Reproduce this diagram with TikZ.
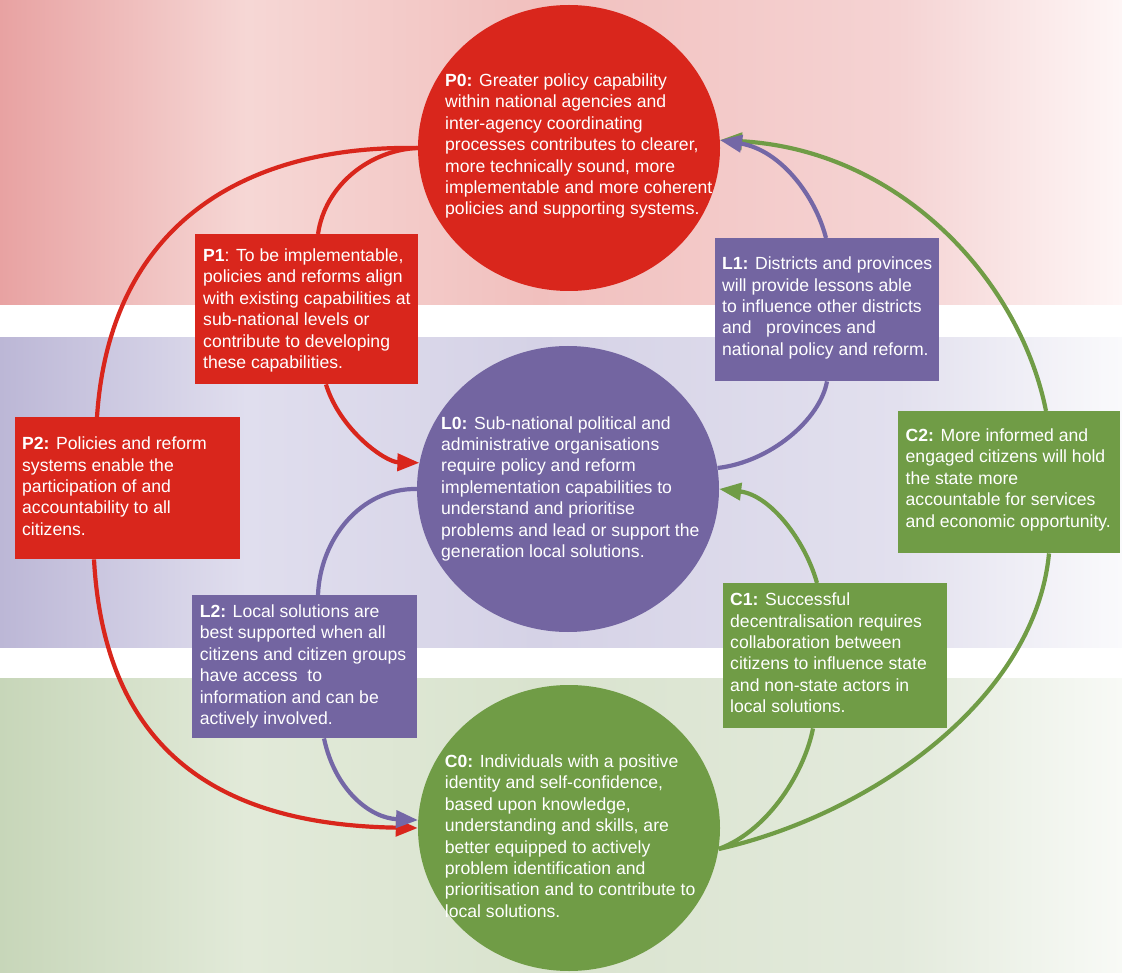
\documentclass[tikz,border=0pt]{standalone}
\usepackage{fontspec}
\setmainfont{Liberation Sans}
\usetikzlibrary{shapes.geometric,arrows.meta}
\definecolor{pred}{HTML}{D9261C}
\definecolor{ppur}{HTML}{7365A1}
\definecolor{lpur}{HTML}{7467A6}
\definecolor{pgrn}{HTML}{709C46}
\definecolor{rb1}{HTML}{E8A2A2}
\definecolor{rb2}{HTML}{F6D7D5}
\definecolor{rb3}{HTML}{F1C0BE}
\definecolor{rb4}{HTML}{F5D3D3}
\definecolor{rb5}{HTML}{FEF6F6}
\definecolor{pb1}{HTML}{BCB7D6}
\definecolor{pb2}{HTML}{E0DEEE}
\definecolor{pb3}{HTML}{D5D2E6}
\definecolor{pb4}{HTML}{E2E0EE}
\definecolor{pb5}{HTML}{FAFAFC}
\definecolor{gb1}{HTML}{C7D6B9}
\definecolor{gb2}{HTML}{E2EAD9}
\definecolor{gb3}{HTML}{D9E3CE}
\definecolor{gb4}{HTML}{E3EADC}
\definecolor{gb5}{HTML}{F8FAF6}
\pgfdeclarehorizontalshading{redband}{100bp}{color(0bp)=(rb1); color(25bp)=(rb1); color(36bp)=(rb2); color(49bp)=(rb3); color(65bp)=(rb4); color(75bp)=(rb5); color(100bp)=(rb5)}
\pgfdeclarehorizontalshading{purband}{100bp}{color(0bp)=(pb1); color(25bp)=(pb1); color(36bp)=(pb2); color(49bp)=(pb3); color(65bp)=(pb4); color(75bp)=(pb5); color(100bp)=(pb5)}
\pgfdeclarehorizontalshading{grnband}{100bp}{color(0bp)=(gb1); color(25bp)=(gb1); color(36bp)=(gb2); color(49bp)=(gb3); color(65bp)=(gb4); color(75bp)=(gb5); color(100bp)=(gb5)}
\tikzset{
  bx/.style={rectangle, draw=none, inner sep=0pt, anchor=north west},
  txt/.style={anchor=north west, inner sep=0pt, align=left, text=white, font=\fontsize{17.6}{21.4}\selectfont},
  circ/.style={ellipse, draw=none, inner sep=0pt, minimum width=302pt, minimum height=286pt},
  plain/.style={line width=4.2pt},
  conn/.style={line width=4.2pt, -{Triangle[length=22pt,width=17pt]}}
}
\begin{document}
\begin{tikzpicture}[x=1pt,y=-1pt]
\useasboundingbox (0,0) rectangle (1122,973);
\fill[white] (0,0) rectangle (1122,973);
\shade[shading=redband] (0,0) rectangle (1122,305);
\shade[shading=purband] (0,338) rectangle (1122,647);
\shade[shading=grnband] (0,678) rectangle (1122,973);

% circles
\node[circ, fill=pred] (P0) at (569,148) {};
\node[circ, fill=ppur] (L0) at (568,489) {};
\node[circ, fill=pgrn] (C0) at (569,828) {};

% boxes
\node[bx, fill=pred, minimum width=223pt, minimum height=150pt] (P1) at (195,234) {};
\node[bx, fill=pred, minimum width=225pt, minimum height=142pt] (P2) at (15,417) {};
\node[bx, fill=ppur, minimum width=224pt, minimum height=143pt] (L1) at (715,238) {};
\node[bx, fill=ppur, minimum width=225pt, minimum height=143pt] (L2) at (192,595) {};
\node[bx, fill=pgrn, minimum width=224pt, minimum height=145pt] (C1) at (723,583) {};
\node[bx, fill=pgrn, minimum width=222pt, minimum height=142pt] (C2) at (898,411) {};

% texts
\node[txt] (P0t) at (445,73.5) {\textbf{P0:} Greater policy capability\\within national agencies and\\inter-agency coordinating\\processes contributes to clearer,\\more technically sound, more\\implementable and more coherent\\policies and supporting systems.};
\node[txt] (P1t) at (203,248.5) {\textbf{P1}: To be implementable,\\policies and reforms align\\with existing capabilities at\\sub-national levels or\\contribute to developing\\these capabilities.};
\node[txt] (P2t) at (22,436.8) {\textbf{P2:} Policies and reform\\systems enable the\\participation of and\\accountability to all\\citizens.};
\node[txt] (L0t) at (441,416.2) {\textbf{L0:} Sub-national political and\\administrative organisations\\require policy and reform\\implementation capabilities to\\understand and prioritise\\problems and lead or support the\\generation local solutions.};
\node[txt] (L1t) at (722,256.8) {\textbf{L1:} Districts and provinces\\will provide lessons able\\to influence other districts\\and\ \ \ provinces and\\national policy and reform.};
\node[txt] (L2t) at (199.6,604.5) {\textbf{L2:} Local solutions are\\best supported when all\\citizens and citizen groups\\have access\ \ to\\information and can be\\actively involved.};
\node[txt] (C0t) at (444.7,754.5) {\textbf{C0:} Individuals with a positive\\identity and self-confidence,\\based upon knowledge,\\understanding and skills, are\\better equipped to actively\\problem identification and\\prioritisation and to contribute to\\local solutions.};
\node[txt] (C1t) at (730,592.8) {\textbf{C1:} Successful\\decentralisation requires\\collaboration between\\citizens to influence state\\and non-state actors in\\local solutions.};
\node[txt] (C2t) at (905.5,428.5) {\textbf{C2:} More informed and\\engaged citizens will hold\\the state more\\accountable for services\\and economic opportunity.};

% red connectors
\draw[plain, draw=pred] (P0.west) .. controls (250,145) and (110,220) .. ([xshift=82pt]P2.north west);
\draw[plain, draw=pred] (P0.west) .. controls (370,150) and (325,185) .. ([xshift=123pt]P1.north west);
\draw[conn, draw=pred] ([xshift=131pt]P1.south west) .. controls (340,430) and (385,462) .. (L0.170);
\draw[conn, draw=pred] ([xshift=79pt]P2.south west) .. controls (105,760) and (230,825) .. (C0.west);

% green connectors
\draw[plain, draw=pgrn] (C0.352) .. controls (770,830) and (805,770) .. ([xshift=90pt]C1.south west);
\draw[conn, draw=pgrn] ([xshift=94pt]C1.north west) .. controls (805,540) and (770,495) .. (L0.east);
\draw[plain, draw=pgrn] (C0.352) .. controls (870,815) and (1035,700) .. ([xshift=151pt]C2.south west);
\draw[conn, draw=pgrn] ([xshift=148pt]C2.north west) .. controls (1020,280) and (900,150) .. (P0.3);

% purple connectors
\draw[plain, draw=lpur] (L0.8) .. controls (770,462) and (820,420) .. ([xshift=112pt]L1.south west);
\draw[conn, draw=lpur] ([xshift=111pt]L1.north west) .. controls (815,195) and (780,150) .. (P0.3);
\draw[plain, draw=lpur] (L0.west) .. controls (360,488) and (320,540) .. ([xshift=126pt]L2.north west);
\draw[conn, draw=lpur] ([xshift=132pt]L2.south west) .. controls (335,790) and (370,818) .. (C0.177);
\end{tikzpicture}
\end{document}
